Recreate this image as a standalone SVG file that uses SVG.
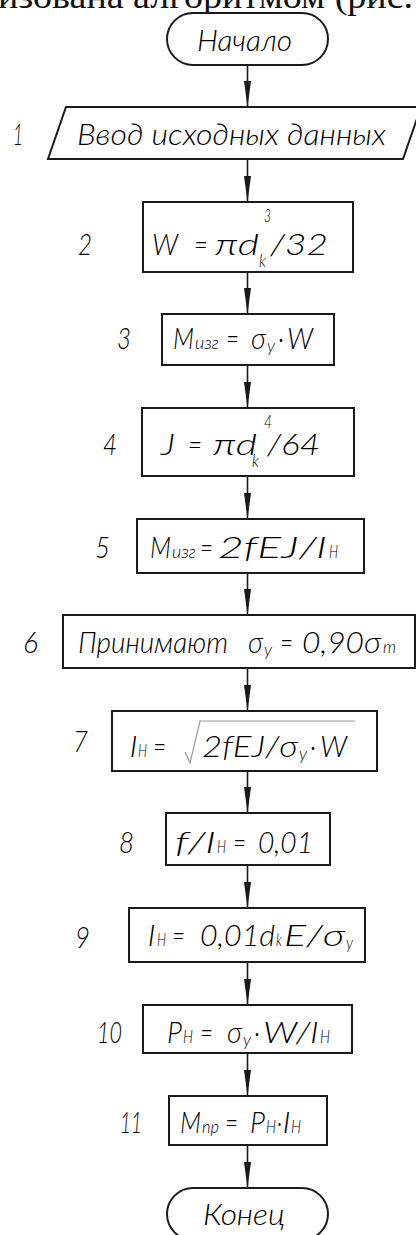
<svg xmlns="http://www.w3.org/2000/svg" width="416" height="1235" viewBox="0 0 416 1235">
<style>
.bg{fill:#fff}
.sh{fill:#fff;stroke:#1a1a1a;stroke-width:2}
.t{font-family:Lato,"DejaVu Sans Condensed","Liberation Sans",sans-serif;font-weight:300;font-style:italic;font-size:30px;fill:#000}
.s{font-size:17px}
.u{font-size:18px}
.c{fill:none;stroke:#1a1a1a;stroke-width:1.6}
.rad{fill:none;stroke:#9a9a9a;stroke-width:1.2}
.cap{font-family:"Liberation Serif","Times New Roman",serif;font-size:36px;fill:#111}
</style>
<defs>
<marker id="ah" markerUnits="userSpaceOnUse" markerWidth="26" markerHeight="8" refX="26" refY="3.5" orient="auto">
<path d="M0,0 L26,3.5 L0,7 z" fill="#1a1a1a"/>
</marker>
</defs>
<rect class="bg" x="0" y="0" width="416" height="1235"/>
<text class="cap" x="-2" y="8" textLength="415" lengthAdjust="spacingAndGlyphs">изована алгоритмом (рис.</text>

<g id="connectors">
<path class="c" d="M247.5,65 V107" marker-end="url(#ah)"/>
<path class="c" d="M247.5,159 V202" marker-end="url(#ah)"/>
<path class="c" d="M247.5,272 V314" marker-end="url(#ah)"/>
<path class="c" d="M247.5,365 V408" marker-end="url(#ah)"/>
<path class="c" d="M247.5,476 V519" marker-end="url(#ah)"/>
<path class="c" d="M247.5,573 V615" marker-end="url(#ah)"/>
<path class="c" d="M247.5,668 V711" marker-end="url(#ah)"/>
<path class="c" d="M247.5,771 V813" marker-end="url(#ah)"/>
<path class="c" d="M247.5,865 V908" marker-end="url(#ah)"/>
<path class="c" d="M247.5,962 V1005" marker-end="url(#ah)"/>
<path class="c" d="M247.5,1053 V1096" marker-end="url(#ah)"/>
<path class="c" d="M247.5,1145 V1188" marker-end="url(#ah)"/>
</g>

<g id="start">
<rect class="sh" x="167" y="13" width="161" height="52" rx="26"/>
<text class="t" x="197" y="51" font-size="27" textLength="95" lengthAdjust="spacingAndGlyphs">Начало</text>
</g>

<g id="n1">
<polygon class="sh" points="66,107 421,107 403,159 48,159"/>
<text class="t" x="13" y="145" textLength="10" lengthAdjust="spacingAndGlyphs">1</text>
<text class="t" x="77" y="145" textLength="309" lengthAdjust="spacingAndGlyphs">Ввод исходных данных</text>
</g>

<g id="n2">
<rect class="sh" x="143" y="202" width="210" height="70"/>
<text class="t" x="78" y="255" textLength="14" lengthAdjust="spacingAndGlyphs">2</text>
<text class="t" x="152" y="255" textLength="26" lengthAdjust="spacingAndGlyphs">W</text>
<text class="t" x="194" y="255" textLength="14" lengthAdjust="spacingAndGlyphs">=</text>
<text class="t" x="215" y="255" textLength="44" lengthAdjust="spacingAndGlyphs">πd</text>
<text class="t s" x="259" y="267" textLength="7" lengthAdjust="spacingAndGlyphs">k</text>
<text class="t u" x="264" y="222" textLength="7" lengthAdjust="spacingAndGlyphs">3</text>
<text class="t" x="270" y="255" textLength="58" lengthAdjust="spacingAndGlyphs">/32</text>
</g>

<g id="n3">
<rect class="sh" x="162" y="314" width="172" height="51"/>
<text class="t" x="117" y="349" textLength="14" lengthAdjust="spacingAndGlyphs">3</text>
<text class="t" x="173" y="349" textLength="21" lengthAdjust="spacingAndGlyphs">M</text>
<text class="t s" x="195" y="349" textLength="24" lengthAdjust="spacingAndGlyphs">изг</text>
<text class="t" x="226" y="349" textLength="13" lengthAdjust="spacingAndGlyphs">=</text>
<text class="t" x="251" y="349" textLength="15" lengthAdjust="spacingAndGlyphs">σ</text>
<text class="t s" x="267" y="352" textLength="8" lengthAdjust="spacingAndGlyphs">y</text>
<text class="t" x="278" y="349" textLength="6" lengthAdjust="spacingAndGlyphs">·</text>
<text class="t" x="287" y="349" textLength="26" lengthAdjust="spacingAndGlyphs">W</text>
</g>

<g id="n4">
<rect class="sh" x="142" y="408" width="212" height="68"/>
<text class="t" x="103" y="455" textLength="14" lengthAdjust="spacingAndGlyphs">4</text>
<text class="t" x="161" y="455" textLength="14" lengthAdjust="spacingAndGlyphs">J</text>
<text class="t" x="188" y="455" textLength="14" lengthAdjust="spacingAndGlyphs">=</text>
<text class="t" x="213" y="455" textLength="44" lengthAdjust="spacingAndGlyphs">πd</text>
<text class="t s" x="252" y="467" textLength="7" lengthAdjust="spacingAndGlyphs">k</text>
<text class="t u" x="264" y="428" textLength="8" lengthAdjust="spacingAndGlyphs">4</text>
<text class="t" x="267" y="455" textLength="53" lengthAdjust="spacingAndGlyphs">/64</text>
</g>

<g id="n5">
<rect class="sh" x="137" y="519" width="227" height="54"/>
<text class="t" x="95" y="558" textLength="15" lengthAdjust="spacingAndGlyphs">5</text>
<text class="t" x="150" y="558" textLength="21" lengthAdjust="spacingAndGlyphs">M</text>
<text class="t s" x="172" y="558" textLength="24" lengthAdjust="spacingAndGlyphs">изг</text>
<text class="t" x="200" y="558" textLength="13" lengthAdjust="spacingAndGlyphs">=</text>
<text class="t" x="218" y="558" textLength="108" lengthAdjust="spacingAndGlyphs">2fEJ/l</text>
<text class="t s" x="329" y="558" textLength="9" lengthAdjust="spacingAndGlyphs">H</text>
</g>

<g id="n6">
<rect class="sh" x="63" y="615" width="352" height="53"/>
<text class="t" x="23" y="653" textLength="15" lengthAdjust="spacingAndGlyphs">6</text>
<text class="t" x="78" y="653" textLength="150" lengthAdjust="spacingAndGlyphs">Принимают</text>
<text class="t" x="248" y="653" textLength="15" lengthAdjust="spacingAndGlyphs">σ</text>
<text class="t s" x="264" y="656" textLength="8" lengthAdjust="spacingAndGlyphs">y</text>
<text class="t" x="280" y="653" textLength="13" lengthAdjust="spacingAndGlyphs">=</text>
<text class="t" x="302" y="653" textLength="79" lengthAdjust="spacingAndGlyphs">0,90σ</text>
<text class="t s" x="383" y="653" textLength="13" lengthAdjust="spacingAndGlyphs">m</text>
</g>

<g id="n7">
<rect class="sh" x="112" y="711" width="265" height="60"/>
<text class="t" x="73" y="752" textLength="15" lengthAdjust="spacingAndGlyphs">7</text>
<text class="t" x="130" y="757" textLength="7" lengthAdjust="spacingAndGlyphs">l</text>
<text class="t s" x="138" y="757" textLength="9" lengthAdjust="spacingAndGlyphs">H</text>
<text class="t" x="153" y="757" textLength="13" lengthAdjust="spacingAndGlyphs">=</text>
<path class="rad" d="M185,752 L190,763 L200,721 H355"/>
<text class="t" x="202" y="757" textLength="96" lengthAdjust="spacingAndGlyphs">2fEJ/σ</text>
<text class="t s" x="299" y="760" textLength="8" lengthAdjust="spacingAndGlyphs">y</text>
<text class="t" x="310" y="757" textLength="6" lengthAdjust="spacingAndGlyphs">·</text>
<text class="t" x="320" y="757" textLength="27" lengthAdjust="spacingAndGlyphs">W</text>
</g>

<g id="n8">
<rect class="sh" x="166" y="813" width="164" height="52"/>
<text class="t" x="119" y="853" textLength="15" lengthAdjust="spacingAndGlyphs">8</text>
<text class="t" x="175" y="853" textLength="40" lengthAdjust="spacingAndGlyphs">f/l</text>
<text class="t s" x="217" y="853" textLength="9" lengthAdjust="spacingAndGlyphs">H</text>
<text class="t" x="233" y="853" textLength="13" lengthAdjust="spacingAndGlyphs">=</text>
<text class="t" x="258" y="853" textLength="55" lengthAdjust="spacingAndGlyphs">0,01</text>
</g>

<g id="n9">
<rect class="sh" x="129" y="908" width="236" height="54"/>
<text class="t" x="75" y="948" textLength="15" lengthAdjust="spacingAndGlyphs">9</text>
<text class="t" x="148" y="946" textLength="7" lengthAdjust="spacingAndGlyphs">l</text>
<text class="t s" x="157" y="946" textLength="9" lengthAdjust="spacingAndGlyphs">H</text>
<text class="t" x="172" y="946" textLength="13" lengthAdjust="spacingAndGlyphs">=</text>
<text class="t" x="200" y="946" textLength="75" lengthAdjust="spacingAndGlyphs">0,01d</text>
<text class="t s" x="276" y="946" font-size="14" textLength="6" lengthAdjust="spacingAndGlyphs">k</text>
<text class="t" x="284" y="946" textLength="61" lengthAdjust="spacingAndGlyphs">E/σ</text>
<text class="t s" x="346" y="949" textLength="7" lengthAdjust="spacingAndGlyphs">y</text>
</g>

<g id="n10">
<rect class="sh" x="143" y="1005" width="209" height="48"/>
<text class="t" x="97" y="1043" textLength="25" lengthAdjust="spacingAndGlyphs">10</text>
<text class="t" x="167" y="1043" textLength="15" lengthAdjust="spacingAndGlyphs">P</text>
<text class="t s" x="183" y="1043" textLength="10" lengthAdjust="spacingAndGlyphs">H</text>
<text class="t" x="200" y="1043" textLength="13" lengthAdjust="spacingAndGlyphs">=</text>
<text class="t" x="227" y="1043" textLength="15" lengthAdjust="spacingAndGlyphs">σ</text>
<text class="t s" x="243" y="1046" textLength="8" lengthAdjust="spacingAndGlyphs">y</text>
<text class="t" x="254" y="1043" textLength="6" lengthAdjust="spacingAndGlyphs">·</text>
<text class="t" x="263" y="1043" textLength="55" lengthAdjust="spacingAndGlyphs">W/l</text>
<text class="t s" x="320" y="1043" textLength="10" lengthAdjust="spacingAndGlyphs">H</text>
</g>

<g id="n11">
<rect class="sh" x="169" y="1096" width="158" height="49"/>
<text class="t" x="120" y="1133" textLength="22" lengthAdjust="spacingAndGlyphs">11</text>
<text class="t" x="180" y="1133" textLength="21" lengthAdjust="spacingAndGlyphs">M</text>
<text class="t s" x="202" y="1133" textLength="17" lengthAdjust="spacingAndGlyphs">пр</text>
<text class="t" x="225" y="1133" textLength="13" lengthAdjust="spacingAndGlyphs">=</text>
<text class="t" x="250" y="1133" textLength="15" lengthAdjust="spacingAndGlyphs">P</text>
<text class="t s" x="266" y="1133" textLength="10" lengthAdjust="spacingAndGlyphs">H</text>
<text class="t" x="277" y="1133" textLength="5" lengthAdjust="spacingAndGlyphs">·</text>
<text class="t" x="283" y="1133" textLength="7" lengthAdjust="spacingAndGlyphs">l</text>
<text class="t s" x="291" y="1133" textLength="10" lengthAdjust="spacingAndGlyphs">H</text>
</g>

<g id="end">
<rect class="sh" x="167" y="1188" width="161" height="52" rx="26"/>
<text class="t" x="203" y="1225" font-size="27" textLength="82" lengthAdjust="spacingAndGlyphs">Конец</text>
</g>
</svg>
